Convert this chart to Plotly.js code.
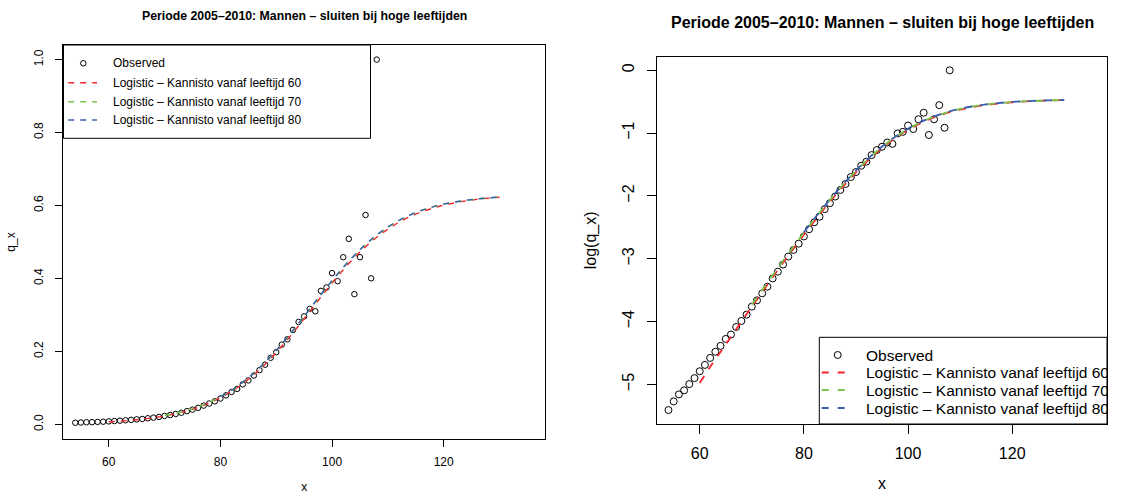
<!DOCTYPE html>
<html>
<head>
<meta charset="utf-8">
<script src="https://cdn.plot.ly/plotly-3.0.1.min.js"></script>
<style>
  html, body { margin: 0; padding: 0; background: #fff; }
  #chart { width: 1128px; height: 497px; }
</style>
</head>
<body>
<div id="chart"></div>
<script>
// ---------------- data ----------------
const chartTitle = 'Periode 2005\u20132010: Mannen \u2013 sluiten bij hoge leeftijden';
const seriesNames = [
  'Observed',
  'Logistic \u2013 Kannisto vanaf leeftijd 60',
  'Logistic \u2013 Kannisto vanaf leeftijd 70',
  'Logistic \u2013 Kannisto vanaf leeftijd 80'
];

const ages = [54,55,56,57,58,59,60,61,62,63,64,65,66,67,68,69,70,71,72,73,74,75,76,77,78,79,
  80,81,82,83,84,85,86,87,88,89,90,91,92,93,94,95,96,97,98,99,100,101,102,103,104,105,106,107,108];
const qObserved = [0.00448,0.00514,0.00575,0.00613,0.00677,0.00745,0.00831,0.00919,0.01027,0.01133,
  0.01244,0.01390,0.01491,0.01681,0.01850,0.02046,0.02324,0.02568,0.02872,0.03194,0.03640,0.04052,
  0.04540,0.05154,0.05727,0.06329,0.07101,0.07966,0.08892,0.09730,0.1097,0.1206,0.1340,0.1488,
  0.1637,0.1827,0.1979,0.2187,0.2334,0.2592,0.2808,0.2961,0.3166,0.3100,0.3660,0.3753,0.4148,
  0.3926,0.4584,0.5087,0.3570,0.4584,0.5741,0.4005,1.0];

const fitAges60 = [60,62,64,66,68,70,72,74,76,78,80,82,84,86,88,90,92,94,96,98,100,102,104,106,108,
  110,112,114,116,118,120,122,124,126,128,130];
const qFit60 = [0.0069,0.0089,0.0113,0.0144,0.0183,0.0232,0.0293,0.0371,0.0467,0.0585,0.0731,0.0906,
  0.1117,0.1363,0.1648,0.1969,0.2323,0.2701,0.3094,0.3489,0.3874,0.4238,0.4573,0.4871,0.5132,0.5354,
  0.5541,0.5697,0.5823,0.5926,0.6009,0.6074,0.6127,0.6168,0.6201,0.6227];

const fitAges70 = [70,72,74,76,78,80,82,84,86,88,90,92,94,96,98,100,102,104,106,108,
  110,112,114,116,118,120,122,124,126,128,130];
const qFit70 = [0.0240,0.0303,0.0383,0.0482,0.0604,0.0754,0.0933,0.1149,0.1401,0.1691,0.2017,0.2375,
  0.2756,0.3150,0.3545,0.3928,0.4290,0.4623,0.4920,0.5180,0.5400,0.5585,0.5737,0.5858,0.5955,0.6032,
  0.6092,0.6140,0.6177,0.6207,0.6230];

const fitAges80 = [80,82,84,86,88,90,92,94,96,98,100,102,104,106,108,
  110,112,114,116,118,120,122,124,126,128,130];
const qFit80 = [0.0760,0.0941,0.1158,0.1411,0.1703,0.2030,0.2390,0.2772,0.3167,0.3562,0.3945,0.4306,
  0.4638,0.4934,0.5193,0.5412,0.5596,0.5746,0.5866,0.5962,0.6038,0.6097,0.6144,0.6180,0.6209,0.6232];

const xTicks = [60, 80, 100, 120];
const qTicks = [0, 0.2, 0.4, 0.6, 0.8, 1.0];
const logTicks = [-5, -4, -3, -2, -1, 0];

// ---------------- styling ----------------
const FONT = '"Liberation Sans", Arial, Helvetica, sans-serif';
const colors = ['#000000', '#F5232A', '#78C44C', '#3A5DAE'];
const W = 1128, H = 497;
const M = {l: 63, r: 21, t: 45, b: 58};
const PW = W - M.l - M.r, PH = H - M.t - M.b;
// pixel -> paper helpers (for layout annotations/shapes only)
const px = v => (v - M.l) / PW;
const py = v => (H - M.b - v) / PH;

const log = arr => arr.map(v => Math.log(v));
const fits = [[fitAges60, qFit60], [fitAges70, qFit70], [fitAges80, qFit80]];

const traces = [];
// left panel
traces.push({x: ages, y: qObserved, xaxis: 'x', yaxis: 'y', type: 'scatter', mode: 'markers',
  marker: {symbol: 'circle-open', size: 5.5, color: '#000', line: {width: 1, color: '#000'}},
  name: seriesNames[0], showlegend: false, cliponaxis: true});
fits.forEach((f, i) => traces.push({x: f[0], y: f[1], xaxis: 'x', yaxis: 'y', type: 'scatter',
  mode: 'lines', line: {color: colors[i + 1], width: 1.4, dash: '6px,6px', shape: 'spline'},
  name: seriesNames[i + 1], showlegend: false}));
// right panel
traces.push({x: ages, y: log(qObserved), xaxis: 'x2', yaxis: 'y2', type: 'scatter', mode: 'markers',
  marker: {symbol: 'circle-open', size: 7, color: '#000', line: {width: 1, color: '#000'}},
  name: seriesNames[0], showlegend: false, cliponaxis: true});
fits.forEach((f, i) => traces.push({x: f[0], y: log(f[1]), xaxis: 'x2', yaxis: 'y2', type: 'scatter',
  mode: 'lines', line: {color: colors[i + 1], width: 1.8, dash: '8px,8px', shape: 'spline'},
  name: seriesNames[i + 1], showlegend: false}));

const axBase = {showline: true, mirror: true, linecolor: '#000', linewidth: 1, showgrid: false,
  zeroline: false, ticks: 'outside', tickcolor: '#000', tickwidth: 1, automargin: false,
  fixedrange: true};

const layout = {
  width: W, height: H, margin: M, paper_bgcolor: '#fff', plot_bgcolor: '#fff',
  font: {family: FONT, color: '#000'},
  showlegend: false,
  xaxis: Object.assign({}, axBase, {domain: [0, (545.3 - M.l) / PW], anchor: 'y', range: [51.8, 138.2],
    tickvals: xTicks, ticklen: 7, tickfont: {size: 12}, ticklabelstandoff: 5,
    title: {text: 'x', font: {size: 12}, standoff: 14}}),
  yaxis: Object.assign({}, axBase, {domain: [0, 1], anchor: 'x', range: [-0.04, 1.04],
    tickvals: qTicks, tickformat: '.1f', tickangle: -90, ticklen: 7, tickfont: {size: 12},
    ticklabelstandoff: 7, title: {text: 'q_x', font: {size: 12}, standoff: 14}}),
  xaxis2: Object.assign({}, axBase, {domain: [(657 - M.l) / PW, 1], anchor: 'y2', range: [51.8, 138.2],
    tickvals: xTicks, ticklen: 9, tickfont: {size: 16}, ticklabelstandoff: 6,
    title: {text: 'x', font: {size: 16}, standoff: 16}}),
  yaxis2: Object.assign({}, axBase, {domain: [py(424), py(56.7)], anchor: 'x2', range: [-5.63, 0.216],
    tickvals: logTicks, tickangle: -90, ticklen: 9, tickfont: {size: 16}, ticklabelstandoff: 7,
    title: {text: 'log(q_x)', font: {size: 16}, standoff: 18}}),
  annotations: [],
  shapes: []
};

// titles
layout.annotations.push({xref: 'paper', yref: 'paper', x: px(304.4), y: py(16), xanchor: 'center',
  yanchor: 'middle', showarrow: false, text: '<b>' + chartTitle + '</b>', font: {size: 12.3}});
layout.annotations.push({xref: 'paper', yref: 'paper', x: px(882), y: py(22), xanchor: 'center',
  yanchor: 'middle', showarrow: false, text: '<b>' + chartTitle + '</b>', font: {size: 16}});

// manual legends (R style)
function addLegend(box, rows, symX, segX0, segX1, textX, fontSize, mSize, lw, dash, clipRight) {
  layout.shapes.push({type: 'rect', xref: 'paper', yref: 'paper', layer: 'above',
    x0: px(box[0]), x1: px(box[1]), y0: py(box[3]), y1: py(box[2]),
    line: {color: '#000', width: 1}, fillcolor: '#fff'});
  const r = mSize / 2;
  layout.shapes.push({type: 'circle', xref: 'paper', yref: 'paper', layer: 'above',
    x0: px(symX - r), x1: px(symX + r), y0: py(rows[0] + r), y1: py(rows[0] - r),
    line: {color: '#000', width: 1}});
  for (let i = 1; i < 4; i++) {
    layout.shapes.push({type: 'line', xref: 'paper', yref: 'paper', layer: 'above',
      x0: px(segX0), x1: px(segX1), y0: py(rows[i]), y1: py(rows[i]),
      line: {color: colors[i], width: lw, dash: dash}});
  }
  for (let i = 0; i < 4; i++) {
    const a = {xref: 'paper', yref: 'paper', x: px(textX - 2), y: py(rows[i]), xanchor: 'left',
      yanchor: 'middle', showarrow: false, text: seriesNames[i], align: 'left',
      font: {size: fontSize}, borderpad: 1};
    if (clipRight) a.width = clipRight - textX;
    layout.annotations.push(a);
  }
}
addLegend([63.5, 370.5, 45, 138.3], [63.3, 82.7, 101.7, 120], 83.3, 68.2, 97, 113.4, 12, 5.5, 1.4, '6px,6px', null);
addLegend([819.3, 1107, 337.3, 424], [355, 372.5, 390, 408], 837.7, 821.7, 848, 866, 15.5, 7, 1.8, '7px,9px', 1107);

Plotly.newPlot('chart', traces, layout, {displayModeBar: false, staticPlot: true});
</script>
</body>
</html>
